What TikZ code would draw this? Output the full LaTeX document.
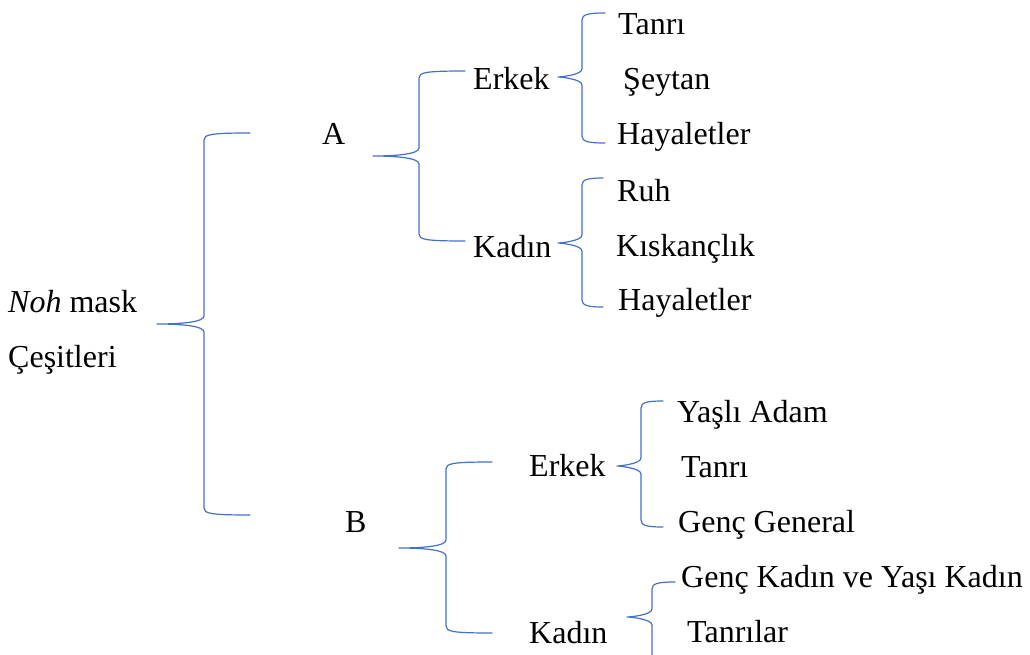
\documentclass[tikz,border=0pt]{standalone}
\usepackage{fontspec}
\setmainfont{Liberation Serif}
\definecolor{braceblue}{RGB}{68,114,196}
\tikzset{
  lbl/.style={anchor=base west, inner sep=0pt, font=\fontsize{32}{38}\selectfont, text=black},
  bracepath/.style={draw=braceblue, line width=1.2pt, line cap=round, line join=round}
}
% #1 tip x, #2 tip y, #3 vertical x, #4 top y, #5 bottom y, #6 end x
\newcommand{\mybrace}[6]{%
  \draw[bracepath] (#6,#4) .. controls (#3+6,#4) and (#3,#4+1.5) .. (#3,#4+7)
    -- (#3,#2-8) .. controls (#3,#2-2) and (#3-22,#2) .. (#1,#2)
    .. controls (#3-22,#2) and (#3,#2+2) .. (#3,#2+8)
    -- (#3,#5-7) .. controls (#3,#5-1.5) and (#3+6,#5) .. (#6,#5);}
\begin{document}
\begin{tikzpicture}[x=1pt,y=-1pt]
\useasboundingbox (0,0) rectangle (1030,655);
% text nodes
\node[lbl] (root1) at (8,312) {\textit{Noh} mask};
\node[lbl] (root2) at (8,367) {Çeşitleri};
\node[lbl] (A) at (322,145) {A};
\node[lbl] (B) at (345,532) {B};
\node[lbl] (AE) at (473,90) {Erkek};
\node[lbl] (AK) at (473,257) {Kadın};
\node[lbl] (BE) at (529,476) {Erkek};
\node[lbl] (BK) at (529,643) {Kadın};
\node[lbl] (AE1) at (618,35) {Tanrı};
\node[lbl] (AE2) at (623,90) {Şeytan};
\node[lbl] (AE3) at (617,145) {Hayaletler};
\node[lbl] (AK1) at (617,201) {Ruh};
\node[lbl] (AK2) at (616,256) {Kıskançlık};
\node[lbl] (AK3) at (618,310) {Hayaletler};
\node[lbl] (BE1) at (677,422) {Yaşlı Adam};
\node[lbl] (BE2) at (681,477) {Tanrı};
\node[lbl] (BE3) at (678,532) {Genç General};
\node[lbl] (BK1) at (681,587) {Genç Kadın ve Yaşı Kadın};
\node[lbl] (BK2) at (687,642) {Tanrılar};
% braces
\mybrace{157}{324}{204}{133}{515}{250}
\mybrace{373}{156}{419}{71}{241}{465}
\mybrace{558}{77}{582}{13}{143}{605}
\mybrace{558}{243}{582}{178}{307}{603}
\mybrace{399}{548}{446}{462}{633}{492}
\mybrace{617}{466}{641}{401}{527}{663}
\mybrace{627}{617}{652}{582}{712}{675}
\end{tikzpicture}
\end{document}
